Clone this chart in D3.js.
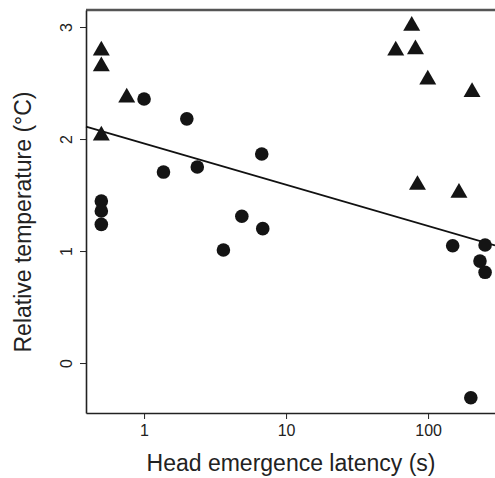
<!DOCTYPE html>
<html>
<head>
<meta charset="utf-8">
<script src="https://cdn.jsdelivr.net/npm/d3@7"></script>
<style>
  body { margin: 0; background: #fff; }
  svg { display: block; font-family: "Liberation Sans", Arial, sans-serif; }
</style>
</head>
<body>
<div id="chart"></div>
<script>
// latency (s), relative temperature (°C)
const circleLatency = [0.5, 0.5, 0.5, 1, 1.37, 2.0, 2.37, 3.62, 4.88, 6.74, 6.85, 149, 252, 232, 252, 200];
const circleTemp = [1.446, 1.357, 1.238, 2.357, 1.705, 2.18, 1.75, 1.009, 1.31, 1.866, 1.2, 1.047, 1.054, 0.91, 0.81, -0.31];
const triLatency = [0.5, 0.5, 0.5, 0.755, 76.7, 59.2, 81.5, 99.5, 204, 84.2, 165];
const triTemp = [2.79, 2.65, 2.03, 2.37, 3.01, 2.79, 2.80, 2.53, 2.42, 1.59, 1.52];
const xTicks = [1, 10, 100];
const yTicks = [0, 1, 2, 3];
// fitted line: temp = intercept + slope * log10(latency)
const fitIntercept = 1.96;
const fitSlope = -0.368;

const width = 495;
const height = 478;
const margin = { top: 10, right: 0, bottom: 65, left: 86 };

const x = d3.scaleLog()
  .domain([0.39, 296])
  .range([margin.left, width - margin.right]);

const y = d3.scaleLinear()
  .domain([-0.446, 3.152])
  .range([height - margin.bottom, margin.top]);

const svg = d3.select('#chart')
  .append('svg')
  .attr('width', width)
  .attr('height', height);

// top frame line
svg.append('line')
  .attr('x1', margin.left).attr('x2', width)
  .attr('y1', margin.top).attr('y2', margin.top)
  .style('stroke', '#555')
  .style('stroke-width', 2.5);

const xAxis = svg.append('g')
  .attr('transform', `translate(0,${height - margin.bottom})`)
  .call(d3.axisBottom(x).tickValues(xTicks).tickFormat(d3.format('d')).tickSizeOuter(0).tickPadding(6));

const yAxis = svg.append('g')
  .attr('transform', `translate(${margin.left},0)`)
  .call(d3.axisLeft(y).tickValues(yTicks).tickFormat(d3.format('d')).tickSizeOuter(0));

[xAxis, yAxis].forEach(g => {
  g.select('.domain').style('stroke', '#222').style('stroke-width', 1.6);
  g.selectAll('.tick line').style('stroke', '#222').style('stroke-width', 1);
  g.selectAll('.tick text').style('font-size', '16px').style('fill', '#222');
});

yAxis.selectAll('.tick text')
  .attr('transform', 'rotate(-90)')
  .attr('x', 0)
  .attr('y', -14)
  .attr('dy', 0)
  .attr('text-anchor', 'middle');

// regression line
const fitX = x.domain();
svg.append('path')
  .datum(fitX)
  .attr('d', d3.line()
    .x(d => x(d))
    .y(d => y(fitIntercept + fitSlope * Math.log10(d))))
  .style('fill', 'none')
  .style('stroke', '#111')
  .style('stroke-width', 1.8);

svg.append('g')
  .selectAll('circle')
  .data(d3.zip(circleLatency, circleTemp))
  .join('circle')
  .attr('cx', d => x(d[0]))
  .attr('cy', d => y(d[1]))
  .attr('r', 6.8)
  .style('fill', '#141414');

svg.append('g')
  .selectAll('path')
  .data(d3.zip(triLatency, triTemp))
  .join('path')
  .attr('transform', d => `translate(${x(d[0])},${y(d[1])})`)
  .attr('d', d3.symbol(d3.symbolTriangle, 125))
  .style('fill', '#141414');

svg.append('text')
  .attr('x', 291)
  .attr('y', 471)
  .attr('text-anchor', 'middle')
  .style('font-size', '23px')
  .style('fill', '#222')
  .text('Head emergence latency (s)');

svg.append('text')
  .attr('transform', 'translate(31,222) rotate(-90)')
  .attr('text-anchor', 'middle')
  .style('font-size', '23px')
  .style('fill', '#222')
  .text('Relative temperature (°C)');
</script>
</body>
</html>
